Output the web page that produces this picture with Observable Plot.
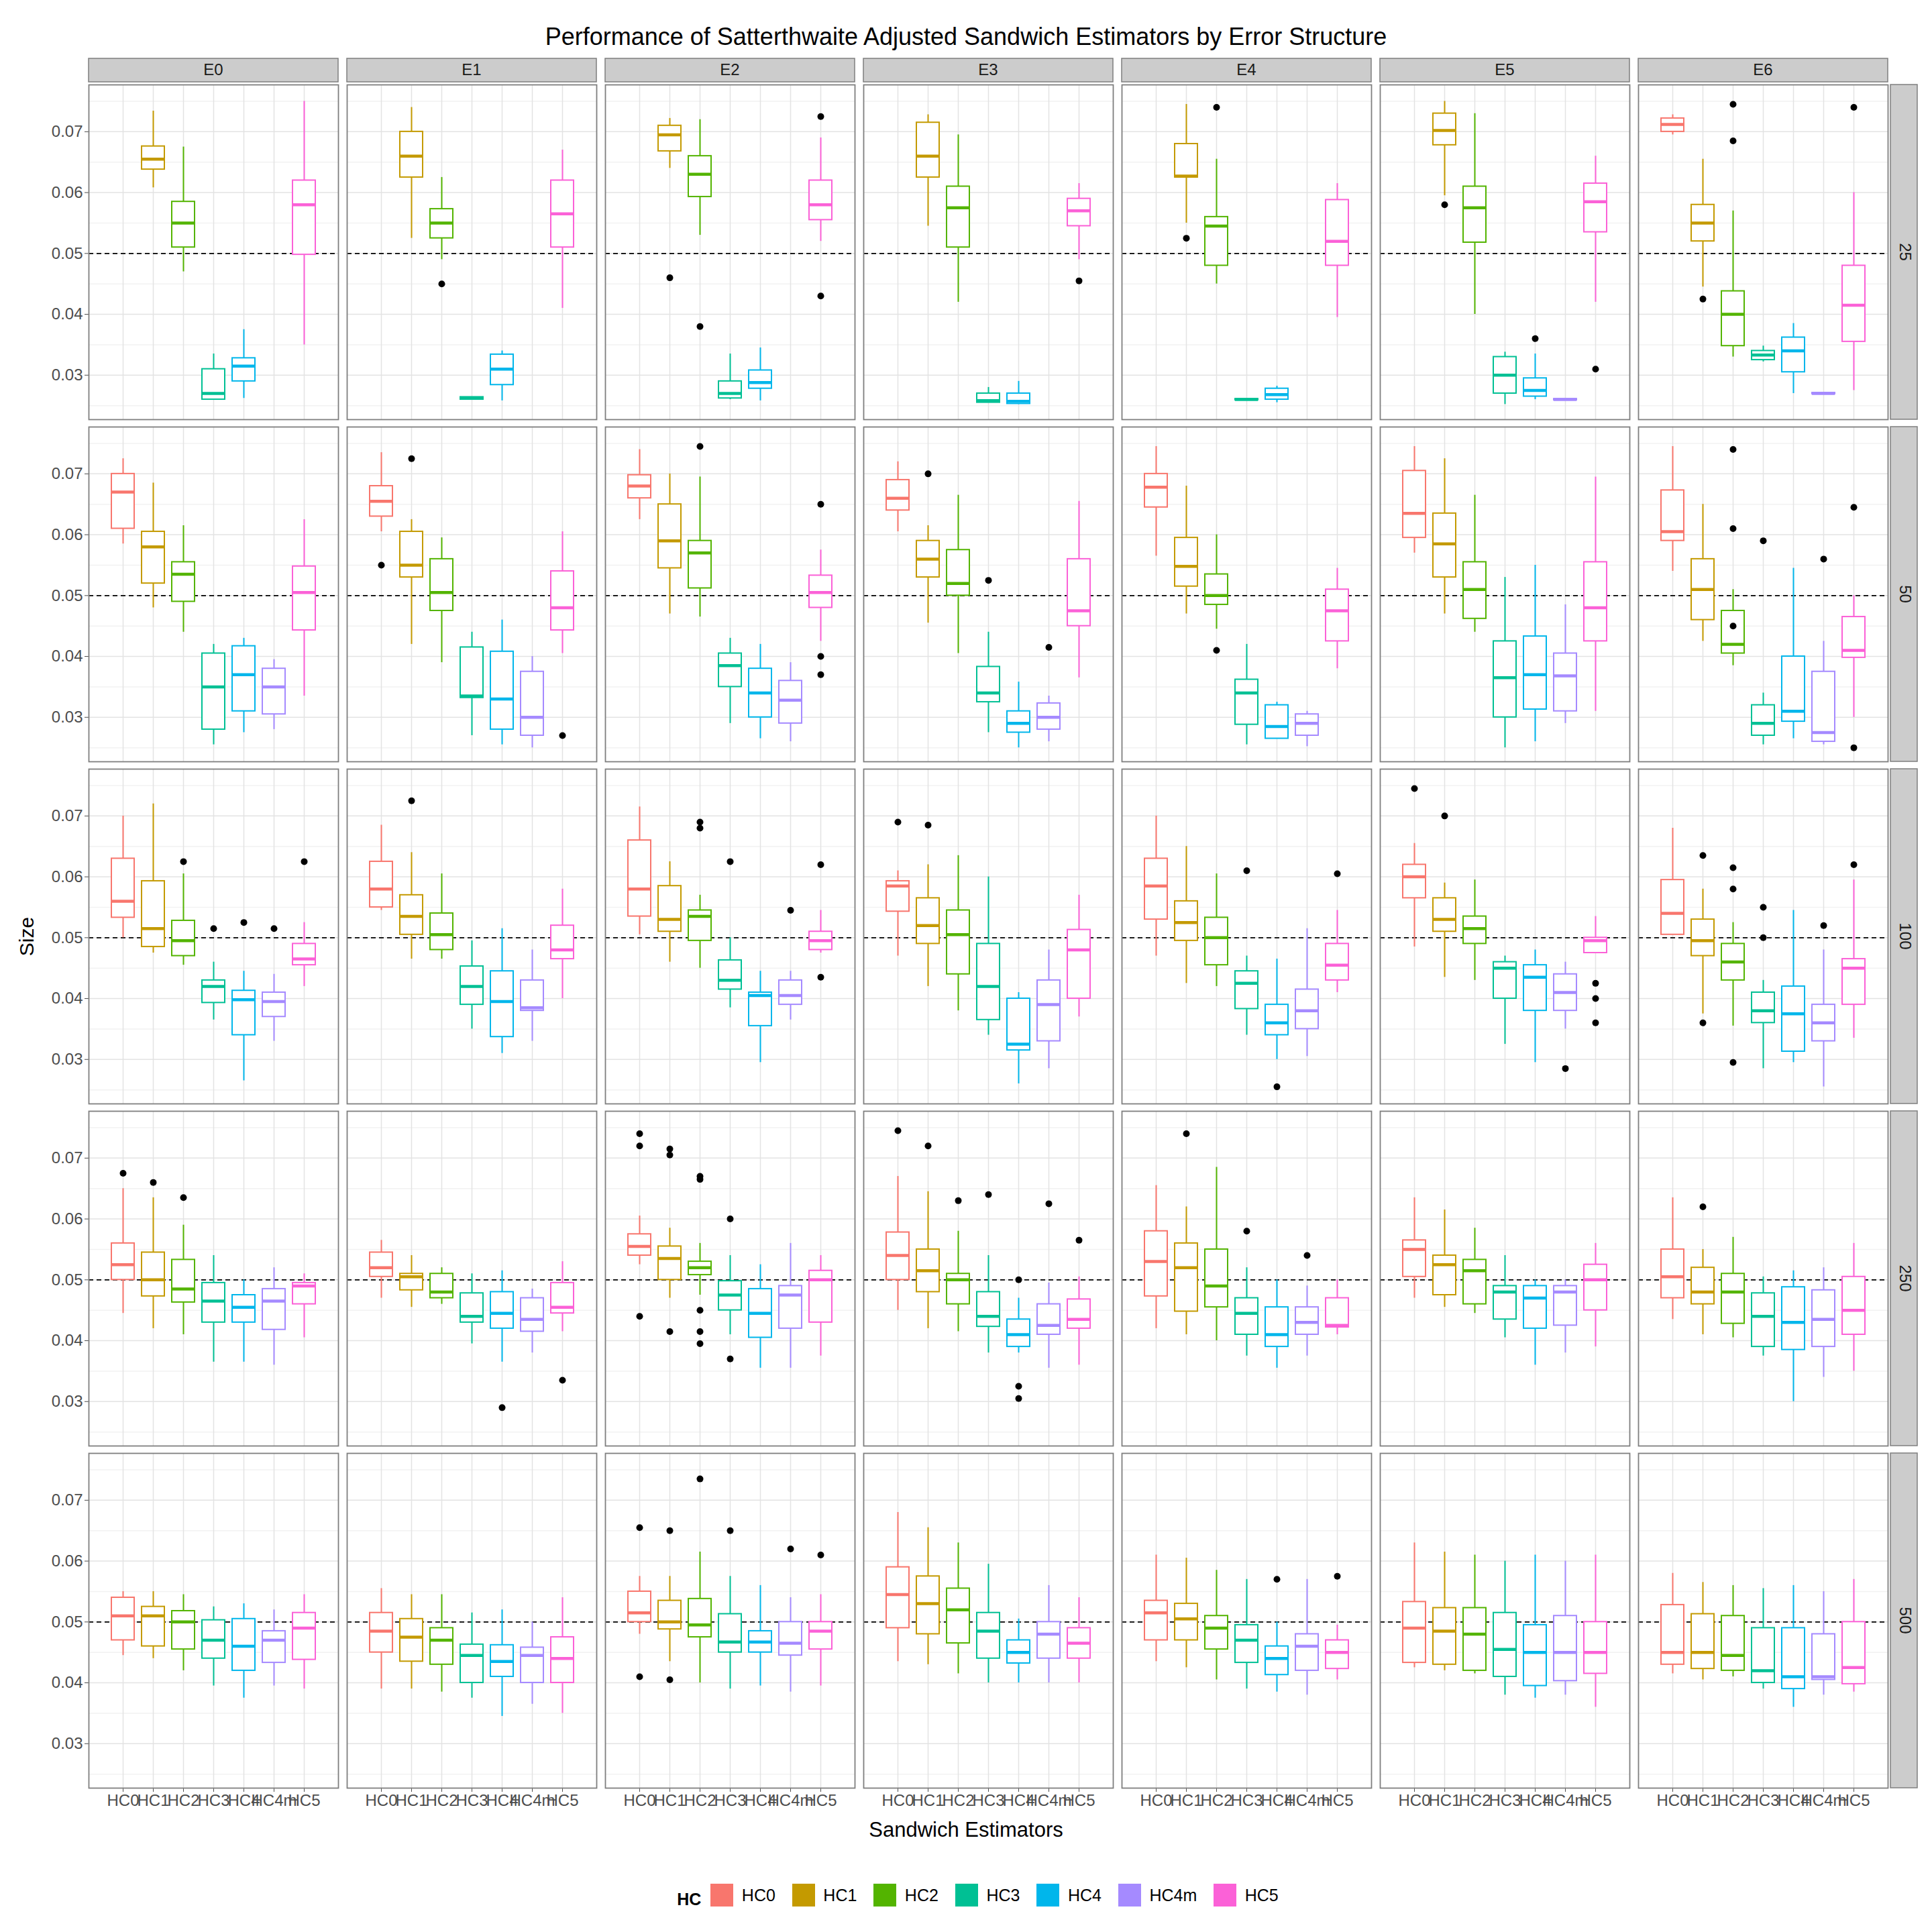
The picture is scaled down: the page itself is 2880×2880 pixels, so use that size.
<!DOCTYPE html>
<html>
<head>
<meta charset="utf-8">
<script src="https://cdn.jsdelivr.net/npm/d3@7"></script>
<script src="https://cdn.jsdelivr.net/npm/@observablehq/plot@0.6"></script>
<style>
  body { margin: 0; background: white; font-family: "Liberation Sans", Arial, sans-serif; }
  #title { height: 85px; line-height: 110px; text-align: center; font-size: 36px; color: black; }
  #xlab { text-align: center; font-size: 31px; height: 50px; line-height: 30px; }
  #legend { display: flex; justify-content: center; align-items: center; margin-top: 45px; padding-left: 60px; }
</style>
</head>
<body>
<div id="title">Performance of Satterthwaite Adjusted Sandwich Estimators by Error Structure</div>
<div id="chart"></div>
<div id="xlab">Sandwich Estimators</div>
<div id="legend"></div>
<script>
const errs = ['E0', 'E1', 'E2', 'E3', 'E4', 'E5', 'E6']
const ns = ['25', '50', '100', '250', '500']
const hcs = ['HC0', 'HC1', 'HC2', 'HC3', 'HC4', 'HC4m', 'HC5']
const colors = ['#F8766D', '#C49A00', '#53B400', '#00C094', '#00B6EB', '#A58AFF', '#FB61D7']
const yTicks = [0.03, 0.04, 0.05, 0.06, 0.07]
const yMinor = [0.025, 0.035, 0.045, 0.055, 0.065, 0.075]

// each box: [lower whisker, q1, median, q3, upper whisker], one row per error structure
const box25 = [
  [null, [0.0608,0.0638,0.0655,0.0676,0.0734], [0.047,0.051,0.055,0.0585,0.0675], [0.026,0.026,0.027,0.031,0.0335], [0.0262,0.029,0.0315,0.0328,0.0375], null, [0.035,0.0498,0.058,0.062,0.075]],
  [null, [0.0525,0.0625,0.066,0.070,0.074], [0.049,0.0525,0.055,0.0573,0.0625], [0.026,0.026,0.0262,0.0264,0.0264], [0.0258,0.0284,0.031,0.0334,0.034], null, [0.041,0.051,0.0565,0.062,0.067]],
  [null, [0.064,0.0668,0.0695,0.071,0.0722], [0.053,0.0593,0.063,0.066,0.072], [0.026,0.0262,0.027,0.029,0.0335], [0.0258,0.0278,0.0288,0.0308,0.0345], null, [0.052,0.0555,0.058,0.062,0.069]],
  [null, [0.0545,0.0625,0.066,0.0715,0.0728], [0.042,0.051,0.0575,0.061,0.0695], [0.0255,0.0255,0.0258,0.027,0.028], [0.0252,0.0253,0.0257,0.027,0.029], null, [0.049,0.0545,0.057,0.059,0.0615]],
  [null, [0.055,0.0625,0.0627,0.068,0.0745], [0.045,0.048,0.0545,0.056,0.0655], [0.0259,0.0259,0.026,0.0261,0.0261], [0.0255,0.026,0.0268,0.0278,0.0282], null, [0.0395,0.048,0.052,0.0588,0.0615]],
  [null, [0.0595,0.0678,0.0702,0.073,0.075], [0.040,0.0518,0.0575,0.061,0.073], [0.0252,0.027,0.030,0.033,0.0338], [0.026,0.0265,0.0275,0.0295,0.0335], [0.0259,0.0259,0.026,0.0261,0.0261], [0.042,0.0535,0.0585,0.0615,0.066]],
  [[0.0695,0.070,0.0712,0.0722,0.0728], [0.0445,0.052,0.055,0.058,0.0655], [0.033,0.0348,0.040,0.0438,0.057], [0.0322,0.0325,0.0333,0.034,0.0348], [0.027,0.0305,0.034,0.0362,0.0385], [0.0269,0.0269,0.027,0.0271,0.0271], [0.0275,0.0355,0.0415,0.048,0.060]]
]
const box50 = [
  [[0.0585,0.061,0.067,0.070,0.0725], [0.048,0.052,0.058,0.0605,0.0685], [0.044,0.049,0.0535,0.0555,0.0615], [0.0255,0.028,0.035,0.0405,0.042], [0.0275,0.031,0.037,0.0417,0.043], [0.028,0.0305,0.035,0.038,0.0395], [0.0335,0.0443,0.0505,0.0548,0.0625]],
  [[0.0605,0.063,0.0655,0.068,0.0735], [0.042,0.053,0.055,0.0605,0.0625], [0.039,0.0475,0.0505,0.056,0.0595], [0.027,0.0332,0.0335,0.0415,0.044], [0.0255,0.028,0.033,0.0408,0.046], [0.025,0.027,0.030,0.0375,0.040], [0.0405,0.0443,0.048,0.054,0.0605]],
  [[0.0625,0.066,0.068,0.0698,0.074], [0.047,0.0545,0.059,0.065,0.070], [0.0465,0.0512,0.057,0.059,0.0695], [0.029,0.035,0.0385,0.0405,0.043], [0.0265,0.030,0.034,0.038,0.042], [0.026,0.029,0.0328,0.036,0.039], [0.0425,0.048,0.0505,0.0533,0.0575]],
  [[0.0605,0.064,0.066,0.069,0.072], [0.0455,0.053,0.056,0.059,0.0615], [0.0405,0.050,0.052,0.0575,0.0665], [0.0275,0.0325,0.034,0.0383,0.044], [0.025,0.0275,0.029,0.031,0.0358], [0.026,0.028,0.030,0.0323,0.0335], [0.0365,0.045,0.0475,0.056,0.0655]],
  [[0.0565,0.0645,0.0678,0.070,0.0745], [0.047,0.0515,0.0548,0.0595,0.068], [0.0445,0.0485,0.050,0.0535,0.060], [0.0255,0.0288,0.034,0.0362,0.042], [0.0265,0.0265,0.0285,0.032,0.0325], [0.0252,0.027,0.029,0.0305,0.031], [0.038,0.0425,0.0475,0.051,0.0545]],
  [[0.057,0.0595,0.0635,0.0705,0.0745], [0.047,0.053,0.0585,0.0635,0.0725], [0.044,0.0462,0.051,0.0555,0.0665], [0.025,0.030,0.0365,0.0425,0.053], [0.026,0.0313,0.037,0.0433,0.055], [0.029,0.031,0.0368,0.0405,0.0485], [0.031,0.0425,0.048,0.0555,0.0695]],
  [[0.054,0.059,0.0605,0.0673,0.0745], [0.0425,0.046,0.051,0.056,0.065], [0.0385,0.0405,0.042,0.0475,0.051], [0.0255,0.027,0.029,0.032,0.034], [0.0265,0.0293,0.031,0.040,0.0545], [0.0255,0.026,0.0275,0.0375,0.0425], [0.030,0.0398,0.041,0.0465,0.050]]
]
const box100 = [
  [[0.050,0.0533,0.056,0.063,0.070], [0.0475,0.0485,0.0515,0.0593,0.072], [0.0455,0.047,0.0495,0.0528,0.0605], [0.0365,0.0393,0.042,0.043,0.046], [0.0265,0.034,0.0398,0.0413,0.0445], [0.033,0.037,0.0395,0.041,0.044], [0.042,0.0455,0.0465,0.049,0.0525]],
  [[0.0545,0.055,0.058,0.0625,0.0685], [0.0465,0.0505,0.0535,0.057,0.064], [0.0465,0.048,0.0505,0.054,0.0605], [0.035,0.039,0.042,0.0453,0.0495], [0.031,0.0337,0.0395,0.0445,0.0515], [0.033,0.038,0.0385,0.043,0.048], [0.040,0.0465,0.048,0.052,0.058]],
  [[0.0505,0.0535,0.058,0.066,0.0715], [0.046,0.051,0.053,0.0585,0.0625], [0.045,0.0495,0.0535,0.0545,0.057], [0.0385,0.0415,0.043,0.0463,0.050], [0.0295,0.0355,0.0405,0.041,0.0445], [0.0365,0.039,0.0405,0.043,0.0445], [0.0475,0.048,0.0495,0.051,0.0545]],
  [[0.047,0.0543,0.0585,0.0593,0.061], [0.042,0.049,0.052,0.0565,0.062], [0.038,0.044,0.0505,0.0545,0.0635], [0.034,0.0365,0.042,0.049,0.060], [0.026,0.0315,0.0325,0.040,0.041], [0.0285,0.033,0.039,0.043,0.048], [0.037,0.040,0.048,0.0513,0.057]],
  [[0.047,0.053,0.0585,0.063,0.070], [0.0425,0.0495,0.0525,0.056,0.065], [0.042,0.0455,0.050,0.0533,0.0605], [0.034,0.0383,0.0425,0.0445,0.047], [0.030,0.034,0.036,0.039,0.0465], [0.0305,0.035,0.038,0.0415,0.0515], [0.041,0.043,0.0455,0.049,0.0545]],
  [[0.0485,0.0565,0.060,0.062,0.0655], [0.0435,0.051,0.053,0.0565,0.059], [0.043,0.049,0.0515,0.0535,0.0595], [0.0325,0.040,0.045,0.046,0.047], [0.0295,0.038,0.0435,0.0455,0.048], [0.035,0.038,0.041,0.044,0.046], [0.0475,0.0475,0.0495,0.050,0.0535]],
  [[0.0505,0.0505,0.054,0.0595,0.068], [0.0375,0.047,0.0495,0.053,0.058], [0.0355,0.043,0.046,0.049,0.0525], [0.0285,0.036,0.038,0.041,0.043], [0.0295,0.0313,0.0375,0.042,0.0545], [0.0255,0.033,0.036,0.039,0.048], [0.0335,0.039,0.045,0.0465,0.0595]]
]
const box250 = [
  [[0.0445,0.050,0.0525,0.056,0.065], [0.042,0.0473,0.050,0.0545,0.0635], [0.041,0.0463,0.0485,0.0533,0.059], [0.0365,0.043,0.0465,0.0495,0.054], [0.0365,0.043,0.0455,0.0475,0.050], [0.036,0.0418,0.0465,0.0485,0.052], [0.0405,0.046,0.049,0.0495,0.051]],
  [[0.047,0.0505,0.052,0.0545,0.0565], [0.0455,0.0483,0.0505,0.051,0.054], [0.046,0.047,0.048,0.051,0.052], [0.0395,0.043,0.044,0.0478,0.051], [0.0365,0.042,0.0445,0.048,0.0515], [0.038,0.0415,0.0435,0.047,0.0485], [0.0415,0.0445,0.0455,0.0495,0.053]],
  [[0.0525,0.054,0.0555,0.0575,0.0605], [0.047,0.050,0.0535,0.0555,0.0585], [0.0475,0.0508,0.052,0.053,0.056], [0.041,0.045,0.0475,0.0498,0.054], [0.0355,0.0405,0.0445,0.0485,0.0525], [0.0355,0.042,0.0475,0.049,0.056], [0.0375,0.043,0.050,0.0515,0.054]],
  [[0.045,0.050,0.054,0.0578,0.067], [0.042,0.048,0.0515,0.055,0.0645], [0.0415,0.046,0.050,0.051,0.058], [0.038,0.0423,0.044,0.048,0.054], [0.038,0.039,0.041,0.0435,0.047], [0.0355,0.041,0.0425,0.046,0.0495], [0.036,0.042,0.0435,0.0468,0.0505]],
  [[0.042,0.0473,0.053,0.058,0.0655], [0.041,0.0448,0.052,0.056,0.062], [0.040,0.0455,0.049,0.055,0.0685], [0.0375,0.041,0.0445,0.047,0.052], [0.0355,0.039,0.041,0.0455,0.050], [0.0375,0.041,0.043,0.0455,0.049], [0.041,0.0422,0.0425,0.047,0.050]],
  [[0.047,0.0505,0.055,0.0565,0.0635], [0.0455,0.0475,0.0525,0.054,0.0615], [0.0445,0.046,0.0515,0.0533,0.0585], [0.0405,0.0435,0.048,0.049,0.054], [0.036,0.042,0.047,0.049,0.050], [0.038,0.0425,0.048,0.049,0.050], [0.039,0.045,0.050,0.0525,0.056]],
  [[0.0435,0.047,0.0505,0.055,0.0635], [0.041,0.046,0.048,0.052,0.055], [0.0405,0.0428,0.048,0.051,0.057], [0.0375,0.039,0.044,0.0478,0.0505], [0.030,0.0385,0.043,0.0488,0.0515], [0.034,0.039,0.0435,0.0483,0.052], [0.035,0.041,0.045,0.0505,0.056]]
]
const box500 = [
  [[0.0445,0.047,0.051,0.054,0.055], [0.044,0.046,0.051,0.0525,0.055], [0.042,0.0455,0.050,0.0518,0.0545], [0.0395,0.044,0.047,0.0503,0.0525], [0.0375,0.042,0.046,0.0505,0.053], [0.0395,0.0433,0.047,0.0485,0.052], [0.039,0.0438,0.049,0.0515,0.0545]],
  [[0.039,0.045,0.0485,0.0515,0.0555], [0.039,0.0435,0.0475,0.0505,0.0545], [0.0385,0.043,0.047,0.049,0.0545], [0.0375,0.040,0.0445,0.0463,0.0515], [0.0345,0.041,0.0435,0.0462,0.052], [0.0365,0.040,0.0445,0.0458,0.050], [0.035,0.040,0.044,0.0475,0.054]],
  [[0.048,0.050,0.0515,0.055,0.0575], [0.0435,0.0488,0.050,0.0535,0.0575], [0.040,0.0475,0.0495,0.0538,0.0615], [0.039,0.045,0.0467,0.0513,0.0575], [0.0395,0.045,0.0467,0.0485,0.056], [0.0385,0.0445,0.0465,0.050,0.054], [0.0395,0.0455,0.0485,0.050,0.0545]],
  [[0.0435,0.049,0.0545,0.059,0.068], [0.043,0.048,0.053,0.0575,0.0655], [0.0415,0.0465,0.052,0.0555,0.063], [0.040,0.044,0.0485,0.0515,0.0595], [0.040,0.0432,0.045,0.047,0.0505], [0.040,0.044,0.048,0.050,0.056], [0.040,0.044,0.0465,0.049,0.054]],
  [[0.0435,0.047,0.0515,0.0535,0.061], [0.0425,0.047,0.0505,0.053,0.0605], [0.0405,0.0455,0.049,0.051,0.0585], [0.039,0.0433,0.047,0.0495,0.057], [0.0385,0.0413,0.044,0.046,0.050], [0.038,0.042,0.046,0.048,0.057], [0.0405,0.0423,0.045,0.047,0.0495]],
  [[0.0425,0.0433,0.049,0.0533,0.063], [0.042,0.043,0.0485,0.0523,0.0615], [0.0415,0.042,0.048,0.0523,0.061], [0.038,0.041,0.0455,0.0515,0.060], [0.0375,0.0395,0.045,0.0495,0.061], [0.038,0.0403,0.045,0.051,0.060], [0.036,0.0415,0.045,0.050,0.061]],
  [[0.0415,0.043,0.045,0.0528,0.058], [0.0405,0.0423,0.045,0.0513,0.0565], [0.041,0.042,0.0445,0.051,0.056], [0.039,0.040,0.042,0.049,0.0555], [0.036,0.039,0.041,0.049,0.056], [0.038,0.0405,0.041,0.048,0.055], [0.0385,0.0398,0.0425,0.050,0.057]]
]

// outliers: [error structure, estimator, value]
const out25 = [['E1','HC2',0.045], ['E2','HC1',0.046], ['E2','HC2',0.038], ['E2','HC5',0.0725], ['E2','HC5',0.043], ['E3','HC5',0.0455],
  ['E4','HC1',0.0525], ['E4','HC2',0.074], ['E5','HC1',0.058], ['E5','HC4',0.036], ['E5','HC5',0.031], ['E6','HC1',0.0425],
  ['E6','HC2',0.0745], ['E6','HC2',0.0685], ['E6','HC5',0.074]]
const out50 = [['E1','HC0',0.055], ['E1','HC1',0.0725], ['E1','HC5',0.027], ['E2','HC2',0.0745], ['E2','HC5',0.065], ['E2','HC5',0.040],
  ['E2','HC5',0.037], ['E3','HC1',0.070], ['E3','HC3',0.0525], ['E3','HC4m',0.0415], ['E4','HC2',0.041], ['E6','HC2',0.074],
  ['E6','HC2',0.061], ['E6','HC2',0.045], ['E6','HC3',0.059], ['E6','HC4m',0.056], ['E6','HC5',0.0645], ['E6','HC5',0.025]]
const out100 = [['E0','HC2',0.0625], ['E0','HC3',0.0515], ['E0','HC4',0.0525], ['E0','HC4m',0.0515], ['E0','HC5',0.0625], ['E1','HC1',0.0725],
  ['E2','HC2',0.069], ['E2','HC2',0.068], ['E2','HC3',0.0625], ['E2','HC4m',0.0545], ['E2','HC5',0.062], ['E2','HC5',0.0435],
  ['E3','HC0',0.069], ['E3','HC1',0.0685], ['E4','HC3',0.061], ['E4','HC4',0.0255], ['E4','HC5',0.0605], ['E5','HC0',0.0745],
  ['E5','HC1',0.070], ['E5','HC4m',0.0285], ['E5','HC5',0.0425], ['E5','HC5',0.040], ['E5','HC5',0.036], ['E6','HC1',0.0635],
  ['E6','HC1',0.036], ['E6','HC2',0.0615], ['E6','HC2',0.058], ['E6','HC2',0.0295], ['E6','HC3',0.055], ['E6','HC3',0.050],
  ['E6','HC4m',0.052], ['E6','HC5',0.062]]
const out250 = [['E0','HC0',0.0675], ['E0','HC1',0.066], ['E0','HC2',0.0635], ['E1','HC4',0.029], ['E1','HC5',0.0335],
  ['E2','HC0',0.074], ['E2','HC0',0.072], ['E2','HC0',0.044], ['E2','HC1',0.0715], ['E2','HC1',0.0705], ['E2','HC1',0.0415],
  ['E2','HC2',0.067], ['E2','HC2',0.0665], ['E2','HC2',0.045], ['E2','HC2',0.0415], ['E2','HC2',0.0395], ['E2','HC3',0.060],
  ['E2','HC3',0.037], ['E3','HC0',0.0745], ['E3','HC1',0.072], ['E3','HC2',0.063], ['E3','HC3',0.064], ['E3','HC4',0.050],
  ['E3','HC4',0.0325], ['E3','HC4',0.0305], ['E3','HC4m',0.0625], ['E3','HC5',0.0565], ['E4','HC1',0.074], ['E4','HC3',0.058],
  ['E4','HC4m',0.054], ['E6','HC1',0.062]]
const out500 = [['E2','HC0',0.0655], ['E2','HC0',0.041], ['E2','HC1',0.065], ['E2','HC1',0.0405], ['E2','HC2',0.0735], ['E2','HC3',0.065],
  ['E2','HC4m',0.062], ['E2','HC5',0.061], ['E4','HC4',0.057], ['E4','HC5',0.0575]]

const boxSets = [box25, box50, box100, box250, box500]
const outSets = [out25, out50, out100, out250, out500]

let boxes = []
boxSets.forEach((set, r) => set.forEach((row, e) => row.forEach((b, h) => {
  if (b) boxes.push({N: ns[r], E: errs[e], HC: hcs[h], lo: b[0], q1: b[1], med: b[2], q3: b[3], hi: b[4]})
})))
let outs = []
outSets.forEach((set, r) => set.forEach(o => outs.push({N: ns[r], E: o[0], HC: o[1], v: o[2]})))

const W = 2880, H = 2628
const mL = 131, mR = 65, mT = 39, mB = 45
const fc = {fx: 'E', fy: 'N', x: 'HC'}

let chart = Plot.plot({
  width: W,
  height: H,
  marginLeft: mL,
  marginRight: mR,
  marginTop: mT,
  marginBottom: mB,
  fx: {domain: errs, axis: null, padding: 0.034},
  fy: {domain: ns, axis: null, padding: 0.021},
  x: {domain: hcs, padding: 0.25, paddingOuter: 0.725, label: null, tickSize: 6, tickPadding: 3},
  y: {domain: [0.0227, 0.0777], ticks: yTicks, tickFormat: d3.format('.2f'), label: null, tickSize: 6},
  color: {domain: hcs, range: colors},
  style: {fontFamily: '"Liberation Sans", Arial, sans-serif', fontSize: '24px', color: '#4d4d4d'},
  marks: [
    Plot.ruleY(yMinor, {stroke: '#f2f2f2', strokeWidth: 1.5}),
    Plot.ruleY(yTicks, {stroke: '#e3e3e3', strokeWidth: 1.5}),
    Plot.ruleX(hcs, {stroke: '#e3e3e3', strokeWidth: 1.5}),
    Plot.ruleY([0.05], {stroke: 'black', strokeWidth: 1.8, strokeDasharray: '7,5'}),
    Plot.ruleX(boxes, {...fc, y1: 'lo', y2: 'hi', stroke: 'HC', strokeWidth: 2}),
    Plot.barY(boxes, {...fc, y1: 'q1', y2: 'q3', fill: 'white', stroke: 'HC', strokeWidth: 2}),
    Plot.tickY(boxes, {...fc, y: 'med', stroke: 'HC', strokeWidth: 4.5}),
    Plot.dot(outs, {...fc, y: 'v', fill: 'black', r: 5}),
    Plot.frame({stroke: '#7f7f7f', strokeWidth: 1.8}),
  ],
})

// grey facet strips on top and right, as in the ggplot original
const fxS = chart.scale('fx'), fyS = chart.scale('fy')
const svg = d3.select(chart)
const strips = svg.append('g')
errs.forEach(e => {
  const x = fxS.apply(e)
  strips.append('rect').attr('x', x).attr('y', 2).attr('width', fxS.bandwidth).attr('height', mT - 4)
    .attr('fill', '#cccccc').attr('stroke', '#7f7f7f').attr('stroke-width', 1.5)
  strips.append('text').attr('x', x + fxS.bandwidth / 2).attr('y', mT / 2 + 1).attr('text-anchor', 'middle')
    .attr('dominant-baseline', 'middle').attr('font-size', 24).attr('fill', '#1a1a1a').text(e)
})
ns.forEach(n => {
  const y = fyS.apply(n)
  const x0 = W - mR + 3
  strips.append('rect').attr('x', x0).attr('y', y).attr('width', 40).attr('height', fyS.bandwidth)
    .attr('fill', '#cccccc').attr('stroke', '#7f7f7f').attr('stroke-width', 1.5)
  strips.append('text').attr('transform', `translate(${x0 + 20},${y + fyS.bandwidth / 2}) rotate(90)`)
    .attr('text-anchor', 'middle').attr('dominant-baseline', 'middle').attr('font-size', 24)
    .attr('fill', '#1a1a1a').text(n)
})
strips.append('text').attr('transform', `translate(42,${(mT + H - mB) / 2}) rotate(-90)`)
  .attr('text-anchor', 'middle').attr('dominant-baseline', 'middle').attr('font-size', 30)
  .attr('fill', 'black').text('Size')

d3.select('#chart').append(() => chart)

const legend = Plot.legend({
  color: {type: 'ordinal', domain: hcs, range: colors},
  legend: 'swatches',
  swatchSize: 34,
  style: {fontFamily: '"Liberation Sans", Arial, sans-serif', fontSize: '25px'},
})
d3.select('#legend').append('span').style('font-weight', 'bold').style('font-size', '25px')
  .style('margin-right', '14px').text('HC')
d3.select('#legend').append(() => legend)
</script>
</body>
</html>
